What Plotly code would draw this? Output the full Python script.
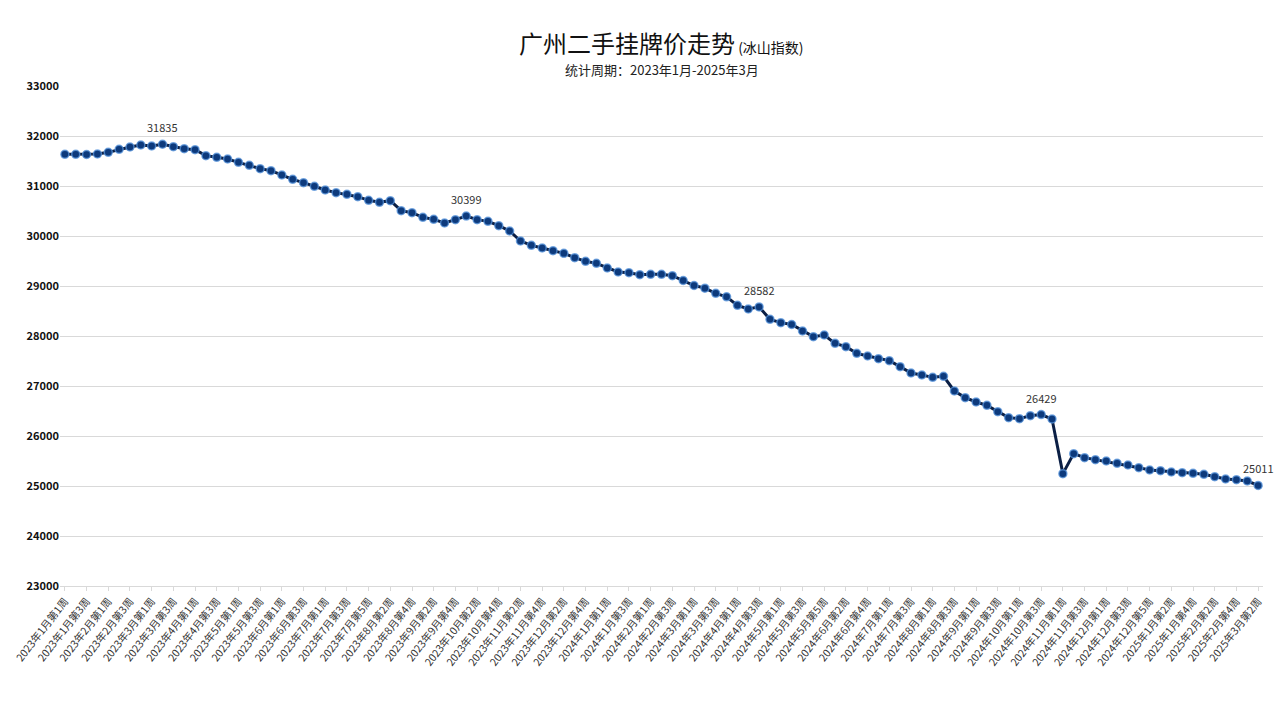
import plotly.graph_objects as go

# ---- data ----
# weeks per month for each (year, month) in the series
month_weeks = [
    (2023, 1, 4), (2023, 2, 4), (2023, 3, 4), (2023, 4, 4), (2023, 5, 4), (2023, 6, 4),
    (2023, 7, 5), (2023, 8, 4), (2023, 9, 4), (2023, 10, 4), (2023, 11, 4), (2023, 12, 5),
    (2024, 1, 4), (2024, 2, 4), (2024, 3, 4), (2024, 4, 4), (2024, 5, 5), (2024, 6, 5),
    (2024, 7, 4), (2024, 8, 4), (2024, 9, 4), (2024, 10, 4), (2024, 11, 4), (2024, 12, 5),
    (2025, 1, 4), (2025, 2, 4), (2025, 3, 2),
]
categories = [f"{y}年{m}月第{w}周" for (y, m, n) in month_weeks for w in range(1, n + 1)]

values = [
    31633, 31633, 31630, 31640, 31673, 31733, 31780, 31820, 31800, 31835,
    31787, 31747, 31727, 31607, 31573, 31540, 31473, 31413, 31347, 31307,
    31220, 31133, 31067, 30993, 30920, 30867, 30833, 30787, 30713, 30673,
    30707, 30507, 30467, 30373, 30333, 30260, 30327, 30399, 30327, 30293,
    30207, 30100, 29900, 29813, 29760, 29707, 29653, 29567, 29493, 29453,
    29360, 29280, 29267, 29227, 29233, 29233, 29207, 29110, 29010, 28957,
    28853, 28783, 28613, 28540, 28582, 28333, 28267, 28230, 28100, 27987,
    28020, 27853, 27787, 27653, 27600, 27547, 27507, 27387, 27260, 27220,
    27173, 27193, 26900, 26767, 26680, 26613, 26487, 26367, 26347, 26407,
    26429, 26340, 25247, 25647, 25567, 25527, 25500, 25453, 25420, 25367,
    25320, 25307, 25280, 25267, 25253, 25233, 25187, 25140, 25127, 25100,
    25011,
]

labelled_idx = [9, 37, 64, 90, 110]
tick_labels = categories[::2]
y_ticks = list(range(23000, 33001, 1000))

FONT = "Noto Sans CJK SC, Microsoft YaHei, sans-serif"

fig = go.Figure()
fig.add_trace(go.Scatter(
    x=categories, y=values, mode="lines+markers",
    line=dict(color="#0b1f45", width=3),
    marker=dict(size=8, color="#0d3a7c", line=dict(color="rgba(90,150,220,0.75)", width=1.5)),
    hoverinfo="x+y", showlegend=False,
))

annotations = []
for i in labelled_idx:
    annotations.append(dict(
        x=categories[i], y=values[i], xref="x", yref="y",
        text=str(values[i]), showarrow=False, yshift=17,
        font=dict(family=FONT, size=11, color="#333333"),
    ))

annotations.append(dict(
    x=0.5, y=1.086, xref="paper", yref="paper", showarrow=False,
    text="广州二手挂牌价走势<span style='font-size:14px'>&nbsp;(冰山指数)</span>",
    font=dict(family=FONT, size=24, color="#111111"), xanchor="center", yanchor="middle",
))
annotations.append(dict(
    x=0.5, y=1.032, xref="paper", yref="paper", showarrow=False,
    text="统计周期：2023年1月-2025年3月",
    font=dict(family=FONT, size=13, color="#222222"), xanchor="center", yanchor="middle",
))

fig.update_layout(
    width=1280, height=722,
    margin=dict(l=60, r=17, t=86, b=136),
    paper_bgcolor="white", plot_bgcolor="white",
    annotations=annotations,
    font=dict(family=FONT),
)
fig.update_xaxes(
    type="category", range=[-0.45, len(categories) - 0.55], automargin=False,
    tickmode="array", tickvals=tick_labels, ticktext=tick_labels,
    tickangle=-52, tickfont=dict(family=FONT, size=10.5, color="#333333"),
    showgrid=False, showline=True, linecolor="#d9d9d9", linewidth=1,
    ticks="outside", ticklen=4, tickcolor="#d9d9d9", zeroline=False,
)
fig.update_yaxes(
    range=[23000, 33000], tickmode="array", tickvals=y_ticks, automargin=False,
    ticktext=[f"<b>{v}</b>" for v in y_ticks],
    tickfont=dict(family=FONT, size=11, color="#111111"),
    showgrid=True, gridcolor="#d9d9d9", gridwidth=1, zeroline=False, showline=False,
)

fig.write_html("out.html")
